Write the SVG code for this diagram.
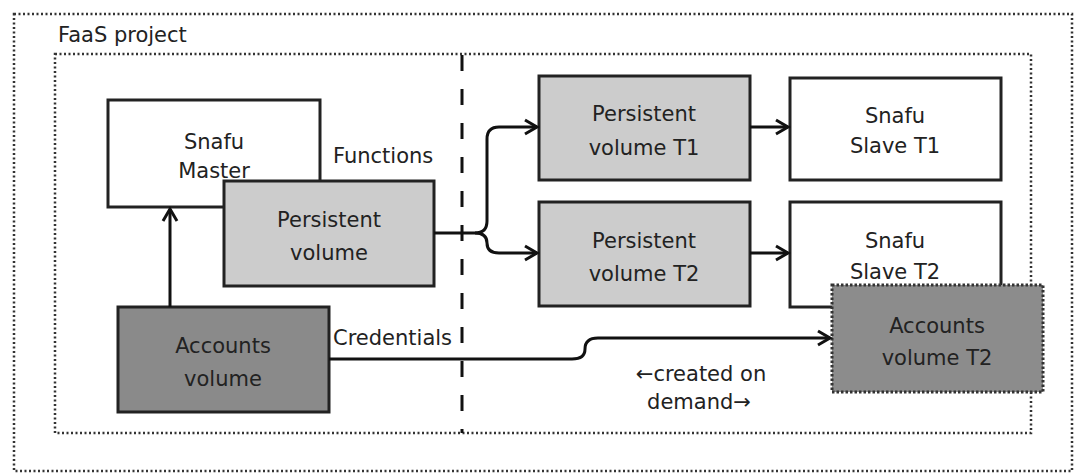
<svg xmlns="http://www.w3.org/2000/svg" width="1074" height="475" viewBox="0 0 1074 475">
<style>
text{font-family:"DejaVu Sans","Liberation Sans",sans-serif;font-size:21px;fill:#222;}
.c{text-anchor:middle;}
.box{stroke:#222;stroke-width:3;}
.white{fill:#fff;}
.light{fill:#cccccc;}
.dark{fill:#8a8a8a;}
.dotted{fill:none;stroke:#333;stroke-width:2.5;stroke-dasharray:2 2.5;}
.conn{fill:none;stroke:#111;stroke-width:3;}
</style>
<defs>
<marker id="arr" markerUnits="userSpaceOnUse" markerWidth="20" markerHeight="20" viewBox="0 0 20 20" refX="17" refY="10" orient="auto">
<path d="M5,3 L17,10 L5,17" fill="none" stroke="#111" stroke-width="3" stroke-linejoin="miter"/>
</marker>
</defs>
<rect width="1074" height="475" fill="#fff"/>
<g id="faas-project">
<rect x="14" y="14" width="1058" height="457" class="dotted"/>
<text x="58" y="42">FaaS project</text>
</g>
<g id="functions-area">
<rect x="55" y="54" width="976" height="379" class="dotted"/>
</g>
<g id="divider">
<line x1="462" y1="55" x2="462" y2="433" stroke="#111" stroke-width="3" stroke-dasharray="16 18"/>
</g>
<g id="snafu-master">
<rect x="108" y="100" width="212" height="107" class="box white"/>
<text class="c" x="214" y="149">Snafu</text>
<text class="c" x="214" y="178">Master</text>
</g>
<g id="persistent-volume">
<rect x="224" y="181" width="210" height="105" class="box light"/>
<text class="c" x="329" y="227">Persistent</text>
<text class="c" x="329" y="260">volume</text>
</g>
<g id="accounts-volume">
<rect x="118" y="307" width="211" height="105" class="box dark"/>
<text class="c" x="223" y="353">Accounts</text>
<text class="c" x="223" y="386">volume</text>
</g>
<g id="persistent-volume-t1">
<rect x="539" y="76" width="211" height="104" class="box light"/>
<text class="c" x="644" y="121">Persistent</text>
<text class="c" x="644" y="155">volume T1</text>
</g>
<g id="persistent-volume-t2">
<rect x="539" y="202" width="211" height="104" class="box light"/>
<text class="c" x="644" y="248">Persistent</text>
<text class="c" x="644" y="281">volume T2</text>
</g>
<g id="snafu-slave-t1">
<rect x="790" y="78" width="211" height="102" class="box white"/>
<text class="c" x="895" y="123">Snafu</text>
<text class="c" x="895" y="153">Slave T1</text>
</g>
<g id="snafu-slave-t2">
<rect x="790" y="202" width="211" height="105" class="box white"/>
<text class="c" x="895" y="248">Snafu</text>
<text class="c" x="895" y="279">Slave T2</text>
</g>
<g id="accounts-volume-t2">
<rect x="832" y="285" width="211" height="107" fill="#8c8c8c" stroke="#333" stroke-width="3" stroke-dasharray="2.5 2"/>
<text class="c" x="937" y="333">Accounts</text>
<text class="c" x="937" y="365">volume T2</text>
</g>
<g id="connectors">
<path class="conn" d="M170,307 V209" marker-end="url(#arr)"/>
<path class="conn" d="M434,233 H475 Q487,233 487,221 V139 Q487,127 499,127 H537" marker-end="url(#arr)"/>
<path class="conn" d="M475,233 Q487,233 487,243 Q487,253 499,253 H537" marker-end="url(#arr)"/>
<path class="conn" d="M750,127 H788" marker-end="url(#arr)"/>
<path class="conn" d="M750,253 H788" marker-end="url(#arr)"/>
<path class="conn" d="M329,359 H572 Q585,359 585,349 Q585,338 598,338 H830" marker-end="url(#arr)"/>
<text x="333" y="163">Functions</text>
<text x="333" y="345">Credentials</text>
<text class="c" x="701" y="381">←created on</text>
<text class="c" x="699" y="409">demand→</text>
</g>
</svg>
